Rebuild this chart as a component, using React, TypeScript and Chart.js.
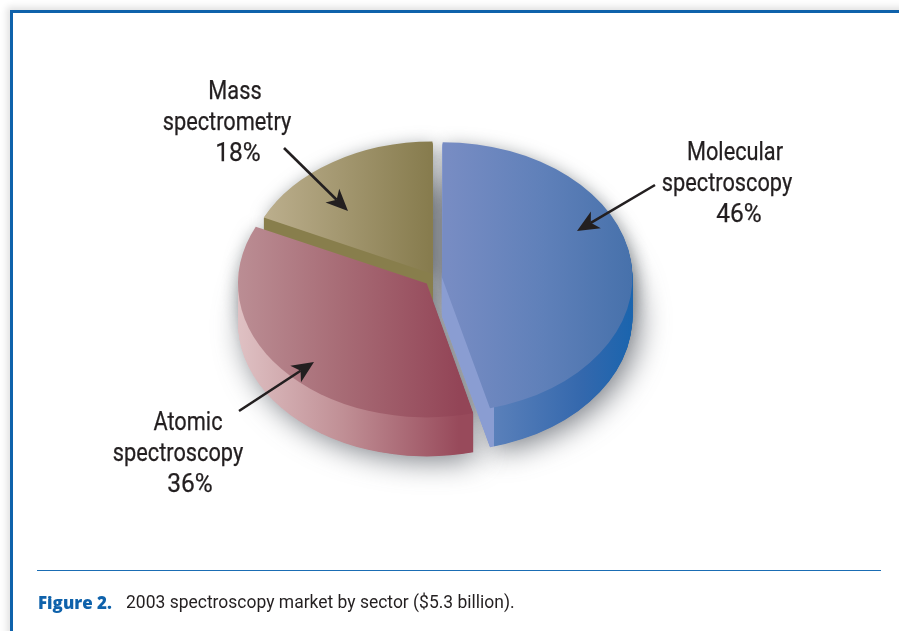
import React, { useEffect, useRef } from "react";
import { Chart, registerables } from "chart.js";

Chart.register(...registerables);

const sectorNames = ["Molecular spectroscopy", "Atomic spectroscopy", "Mass spectrometry"];
const sectorShares = [46, 36, 18];
const sectorOffsets = [24, 48, 26];
const captionLead = "Figure 2.";
const captionText = "2003 spectroscopy market by sector ($5.3 billion).";

const labelLines = [
  { text: "Mass", x: 235, y: 91 },
  { text: "spectrometry", x: 227, y: 122 },
  { text: "18%", x: 238, y: 153 },
  { text: "Molecular", x: 735, y: 152 },
  { text: "spectroscopy", x: 727, y: 183 },
  { text: "46%", x: 739, y: 214 },
  { text: "Atomic", x: 188, y: 422 },
  { text: "spectroscopy", x: 178, y: 453 },
  { text: "36%", x: 190, y: 484 },
];

const arrows = [
  [284, 148, 348, 211],
  [655, 185, 577, 231],
  [239, 411, 314, 362],
];

const SQUASH = 0.71;
const DEPTH = 39;

function gradient(ctx: CanvasRenderingContext2D, x0: number, x1: number, stops: [number, string][]) {
  const g = ctx.createLinearGradient(x0, 0, x1, 0);
  stops.forEach(([o, c]) => g.addColorStop(o, c));
  return g;
}

const ghost = (arc: any, color: any) => {
  const copy = Object.create(arc);
  copy.options = { ...arc.options, backgroundColor: color, borderWidth: 0 };
  return copy;
};

const squash = (ctx: CanvasRenderingContext2D, cy: number, dx: number, dy: number) => {
  ctx.translate(dx, cy + dy);
  ctx.scale(1, SQUASH);
  ctx.translate(0, -cy);
};

function makePlugin(walls: any[]) {
  return {
    id: "pie3d",
    beforeDatasetsDraw(chart: any) {
      const ctx = chart.ctx as CanvasRenderingContext2D;
      const arcs = chart.getDatasetMeta(0).data;
      const cy = arcs[0].y;

      ctx.save();
      ctx.filter = "blur(9px)";
      squash(ctx, cy, 2, 4);
      arcs.forEach((a: any) => ghost(a, "rgba(70,78,84,0.6)").draw(ctx));
      ctx.restore();

      ctx.save();
      ctx.filter = "blur(15px)";
      squash(ctx, cy, 6, DEPTH + 4);
      arcs.forEach((a: any) => ghost(a, "rgba(60,66,76,0.7)").draw(ctx));
      ctx.restore();

      for (const i of [2, 1, 0]) {
        for (let dy = DEPTH; dy >= 1; dy -= 0.5) {
          ctx.save();
          squash(ctx, cy, 0, dy);
          ghost(arcs[i], walls[i]).draw(ctx);
          ctx.restore();
        }
      }
      ctx.save();
      squash(ctx, cy, 0, 0);
    },
    afterDatasetsDraw(chart: any) {
      const ctx = chart.ctx as CanvasRenderingContext2D;
      ctx.restore();
      ctx.save();
      ctx.fillStyle = "#231f20";
      ctx.strokeStyle = "#231f20";
      ctx.lineWidth = 2.6;
      for (const [x0, y0, x1, y1] of arrows) {
        const t = Math.atan2(y1 - y0, x1 - x0);
        const bx = x1 - Math.cos(t) * 16;
        const by = y1 - Math.sin(t) * 16;
        ctx.beginPath();
        ctx.moveTo(x0, y0);
        ctx.lineTo(bx, by);
        ctx.stroke();
        ctx.beginPath();
        ctx.moveTo(x1, y1);
        ctx.lineTo(x1 - Math.cos(t - 0.42) * 24, y1 - Math.sin(t - 0.42) * 24);
        ctx.lineTo(bx, by);
        ctx.lineTo(x1 - Math.cos(t + 0.42) * 24, y1 - Math.sin(t + 0.42) * 24);
        ctx.closePath();
        ctx.fill();
      }
      ctx.restore();
    },
  };
}

const labelFont = '"Roboto", sans-serif';

export default function App() {
  const ref = useRef<HTMLCanvasElement>(null);
  useEffect(() => {
    document.body.style.margin = "0";
    const ctx = ref.current!.getContext("2d")!;
    const faces = [
      gradient(ctx, 443, 633, [[0, "#778cc3"], [0.5, "#5f80b9"], [1, "#4570aa"]]),
      gradient(ctx, 237, 468, [[0, "#bd9197"], [0.5, "#a76b75"], [1, "#934557"]]),
      gradient(ctx, 263, 433, [[0, "#bdb08f"], [1, "#877c4e"]]),
    ];
    const walls = [
      gradient(ctx, 443, 633, [[0, "#8a9dd2"], [0.235, "#8a9dd2"], [0.236, "#5a80ba"], [0.7, "#3468ad"], [1, "#1764ae"]]),
      gradient(ctx, 237, 468, [[0, "#e2c6c8"], [0.5, "#c08f95"], [1, "#984a5b"]]),
      gradient(ctx, 263, 433, [[0, "#887e4c"], [1, "#887e4c"]]),
    ];
    const chart = new Chart(ctx, {
      type: "pie",
      data: {
        labels: sectorNames,
        datasets: [
          {
            data: sectorShares,
            backgroundColor: faces,
            borderWidth: 0,
            offset: sectorOffsets,
            radius: 186,
            clip: false,
          } as any,
        ],
      },
      options: {
        responsive: false,
        animation: false,
        layout: { padding: { left: 0, top: 0, right: 27, bottom: 75 } },
        plugins: { legend: { display: false }, tooltip: { enabled: false }, title: { display: false } },
      },
      plugins: [makePlugin(walls)],
    });
    return () => chart.destroy();
  }, []);

  return (
    <div style={{ position: "fixed", left: 0, top: 0, width: 899, height: 631, overflow: "hidden", background: "#fff" }}>
      <div
        style={{
          position: "absolute",
          left: 10,
          top: 10,
          width: 900,
          height: 640,
          borderLeft: "3px solid #0f62ab",
          borderTop: "3px solid #0f62ab",
          boxShadow: "-3px -3px 7px rgba(0,0,0,0.12)",
        }}
      />
      <canvas ref={ref} width={899} height={631} style={{ position: "absolute", left: 0, top: 0 }} />
      {labelLines.map((l, i) => (
        <div
          key={i}
          style={{
            position: "absolute",
            left: l.x - 100,
            top: l.y - 16,
            width: 200,
            height: 32,
            textAlign: "center",
            font: `25px/32px ${labelFont}`,
            color: "#231f20",
            WebkitTextStroke: "0.25px #231f20",
            transform: l.text.endsWith("%") ? "scaleX(0.98)" : "scaleX(0.87)",
          }}
        >
          {l.text}
        </div>
      ))}
      <div style={{ position: "absolute", left: 37, top: 570, width: 844, height: 1, background: "#1a6db4" }} />
      <div
        style={{
          position: "absolute",
          left: 38,
          top: 590,
          color: "#0f62ab",
          font: '800 18px/24px "Open Sans", sans-serif',
          whiteSpace: "nowrap",
          transform: "scaleX(0.94)",
          transformOrigin: "left center",
        }}
      >
        {captionLead}
      </div>
      <div
        style={{
          position: "absolute",
          left: 126,
          top: 590,
          color: "#231f20",
          font: `19px/24px ${labelFont}`,
          whiteSpace: "nowrap",
          transform: "scaleX(0.92)",
          transformOrigin: "left center",
        }}
      >
        {captionText}
      </div>
    </div>
  );
}
